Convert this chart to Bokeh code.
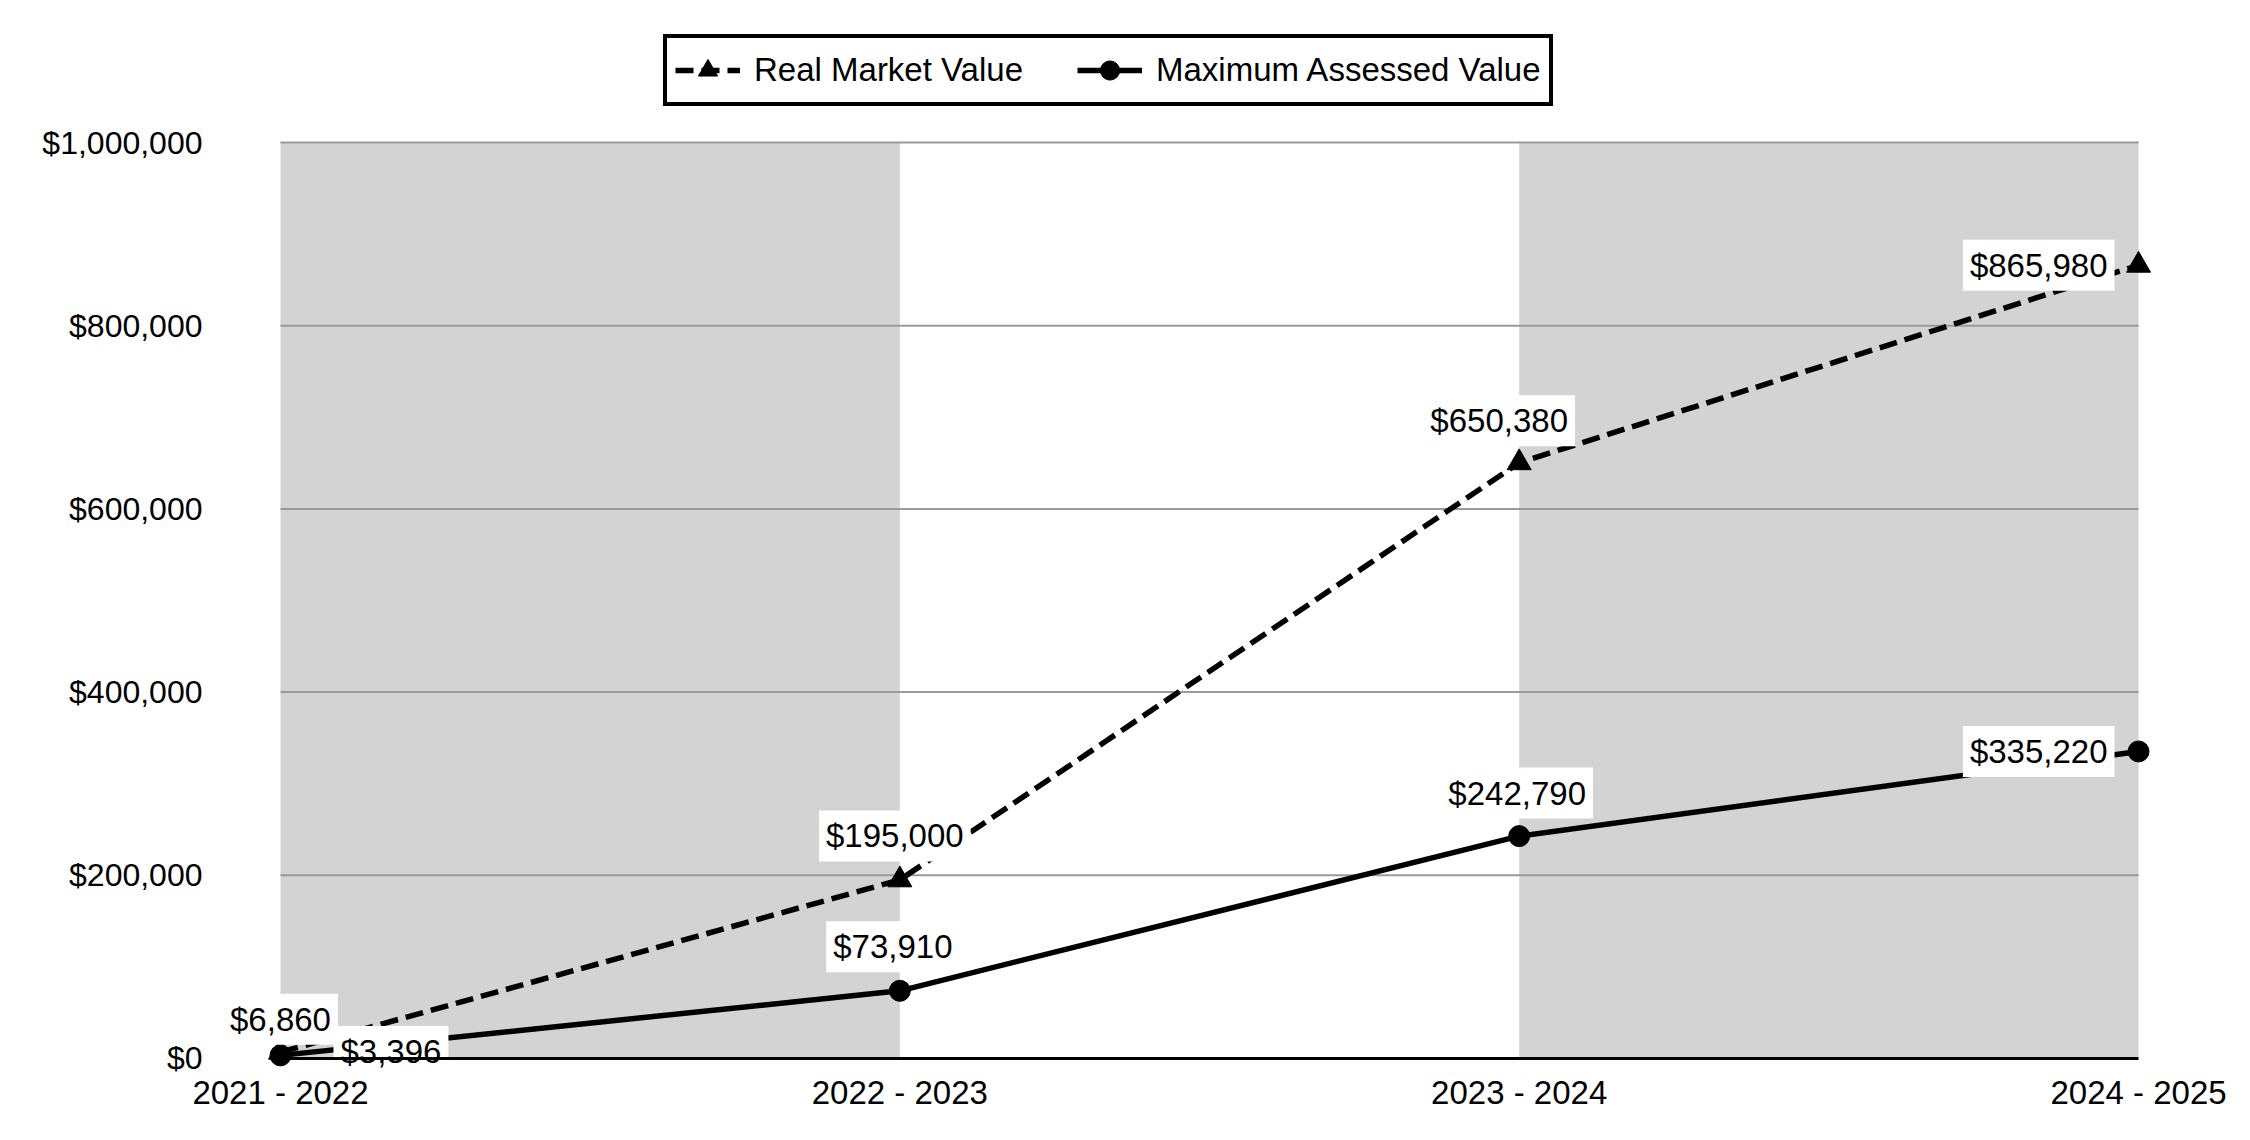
from bokeh.plotting import figure
from bokeh.models import (Range1d, FixedTicker, NumeralTickFormatter, Label,
                          Legend, LegendItem, LinearAxis)
from bokeh.embed import file_html
from bokeh.resources import INLINE

# ---- data ----
categories = ["2021 - 2022", "2022 - 2023", "2023 - 2024", "2024 - 2025"]
real_market_value = [6860, 195000, 650380, 865980]
max_assessed_value = [3396, 73910, 242790, 335220]
y_ticks = [0, 200000, 400000, 600000, 800000, 1000000]

# ---- label placement (screen px offsets, alignment) ----
rmv_label_pos = [(0, 33, "center"), (-5, 44, "center"), (-20, 42, "center"), (-24, 0, "right")]
mav_label_pos = [(53, 4, "left"), (-7, 44, "center"), (-2, 43, "center"), (-24, 0, "right")]

FONT = "Liberation Sans"
xs = list(range(len(categories)))

p = figure(width=2234, height=1124, output_backend="svg", toolbar_location=None,
           x_range=Range1d(-0.113, 3.05), y_range=Range1d(-15284, 1133188),
           x_axis_location=None, y_axis_location=None,
           min_border_left=210, min_border_right=65, min_border_top=20,
           min_border_bottom=52)
p.outline_line_color = None
p.background_fill_color = "white"
p.border_fill_color = "white"
p.grid.visible = False

# alternating shaded bands
band_left = [xs[i] for i in range(len(xs) - 1) if i % 2 == 0]
band_right = [xs[i + 1] for i in range(len(xs) - 1) if i % 2 == 0]
p.quad(left=band_left, right=band_right, bottom=y_ticks[0], top=y_ticks[-1],
       fill_color="#d3d3d3", line_color=None)

# horizontal grid lines
p.segment(x0=xs[0], x1=xs[-1], y0=y_ticks[1:], y1=y_ticks[1:],
          line_color="#9a9a9a", line_width=2)

rmv_line = p.line(xs, real_market_value, line_color="black", line_width=5.5, line_dash="18 8")
rmv_pts = p.scatter(xs, real_market_value, marker="triangle", size=24, color="black")
mav_line = p.line(xs, max_assessed_value, line_color="black", line_width=5.5)
mav_pts = p.scatter(xs, max_assessed_value, marker="circle", size=21, color="black")

# category labels below the frame
xaxis = LinearAxis(bounds=(xs[0], xs[-1]), ticker=FixedTicker(ticks=xs),
                   major_label_overrides={i: c for i, c in enumerate(categories)},
                   axis_line_color=None,
                   major_tick_in=0, major_tick_out=0, minor_tick_in=0, minor_tick_out=0,
                   major_label_standoff=1, major_label_text_font=FONT,
                   major_label_text_font_size="33px", major_label_text_color="black")
p.add_layout(xaxis, "below")

# zero baseline
zero_axis = LinearAxis(fixed_location=0, bounds=(xs[0], xs[-1]), ticker=FixedTicker(ticks=[]),
                       axis_line_color="black", axis_line_width=3,
                       major_tick_in=0, major_tick_out=0, minor_tick_in=0, minor_tick_out=0,
                       major_label_standoff=0)
zero_axis.level = "overlay"
p.add_layout(zero_axis, "above")

yaxis = LinearAxis(ticker=FixedTicker(ticks=y_ticks),
                   formatter=NumeralTickFormatter(format="$0,0"),
                   axis_line_color=None, major_tick_in=0, major_tick_out=0,
                   minor_tick_in=0, minor_tick_out=0, major_label_standoff=8,
                   major_label_text_font=FONT, major_label_text_font_size="32px",
                   major_label_text_color="black")
p.add_layout(yaxis, "left")

for vals, pos in ((real_market_value, rmv_label_pos), (max_assessed_value, mav_label_pos)):
    for x, v, (dx, dy, align) in zip(xs, vals, pos):
        p.add_layout(Label(x=x, y=v, text="${:,}".format(v), x_offset=dx, y_offset=dy,
                           text_align=align, text_baseline="middle", text_font=FONT,
                           text_font_size="33px", text_color="black",
                           background_fill_color="white", padding=7))

legend = Legend(items=[LegendItem(label="Real Market Value", renderers=[rmv_line, rmv_pts]),
                       LegendItem(label="Maximum Assessed Value", renderers=[mav_line, mav_pts])],
                orientation="horizontal", location=(453, 966), glyph_width=65, glyph_height=48,
                label_standoff=14, spacing=54, padding=8, margin=0,
                border_line_color="black", border_line_width=4, border_line_alpha=1,
                background_fill_color="white", background_fill_alpha=1,
                label_text_font=FONT, label_text_font_size="33px",
                label_text_color="black", label_height=30)
p.add_layout(legend, "center")

open("out.html", "w").write(file_html(p, INLINE))
